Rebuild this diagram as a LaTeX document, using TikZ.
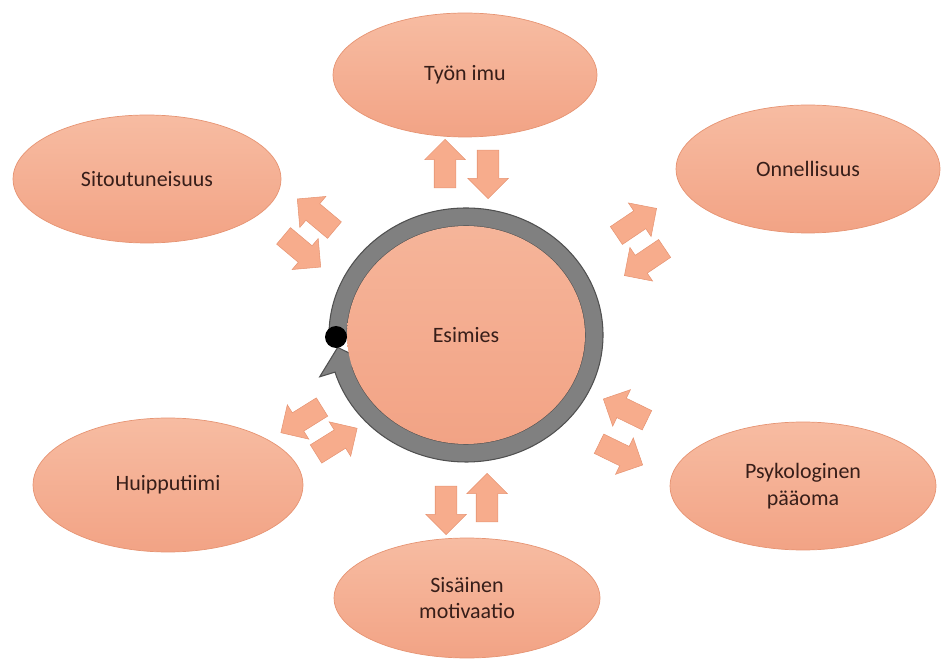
\documentclass[tikz,border=0pt]{standalone}
\usepackage{fontspec}
\setmainfont{Carlito}
\usetikzlibrary{shapes.geometric,shapes.arrows}

\definecolor{salmonTop}{RGB}{247,188,162}
\definecolor{salmonBot}{RGB}{242,163,133}
\definecolor{salmonEdge}{RGB}{230,148,115}
\definecolor{arrowFill}{RGB}{247,172,140}
\definecolor{ringGrey}{RGB}{128,128,128}
\definecolor{ringEdge}{RGB}{80,80,80}
\definecolor{labelText}{RGB}{55,30,25}

\tikzset{
  bubble/.style={ellipse, draw=salmonEdge, line width=0.4pt,
    top color=salmonTop, bottom color=salmonBot, inner sep=0pt,
    text=labelText, align=center, font=\fontsize{12.5}{15}\selectfont},
  flow/.style={single arrow, draw=salmonEdge, line width=0.3pt, fill=arrowFill,
    minimum height=0.97cm, inner sep=0.21cm, single arrow head extend=0.19cm}
}

\begin{document}
\begin{tikzpicture}[x=0.02cm,y=0.02cm]
  \useasboundingbox (0,0) rectangle (942,659);

  %Ring round the centre
  \begin{scope}[shift={(466,324)}]
    \fill[ringGrey, draw=ringEdge, line width=0.6pt]
      (180:137 and 127) arc[start angle=180, end angle=-163, x radius=137, y radius=127]
      -- (-163:153 and 143) -- (-174:129 and 118) -- (-163:103 and 93)
      -- (-163:119 and 109) arc[start angle=-163, end angle=180, x radius=119, y radius=109]
      -- cycle;
  \end{scope}
  \node[ellipse, top color=salmonTop!70!salmonBot, bottom color=salmonBot, inner sep=0pt,
    minimum width=4.76cm, minimum height=4.36cm, text=labelText,
    font=\fontsize{12.5}{15}\selectfont] (esimies) at (466,324) {Esimies};
  \node[circle, fill=black, minimum size=0.44cm, inner sep=0pt] (startdot) at (336,322) {};

  %Outer bubbles
  \begin{scope}[every node/.style={bubble}]
    \node[minimum width=5.28cm, minimum height=2.48cm] (imu) at (465,584) {Työn imu};
    \node[minimum width=5.36cm, minimum height=2.56cm] (sitout) at (147,480) {Sitoutuneisuus};
    \node[minimum width=5.28cm, minimum height=2.56cm] (onni) at (808,490) {Onnellisuus};
    \node[minimum width=5.32cm, minimum height=2.56cm] (psyk) at (803,173) {Psykologinen\\pääoma};
    \node[minimum width=5.40cm, minimum height=2.68cm] (huippu) at (168,174) {Huipputiimi};
    \node[minimum width=5.32cm, minimum height=2.40cm] (motiv) at (467,61) {Sisäinen\\motivaatio};
  \end{scope}

  %Arrow pairs
  \begin{scope}[every node/.style={flow}]
    \node[rotate=90] (imuOut) at (445,490) {};
    \node[rotate=-90] (imuIn) at (488,490) {};
    \node[rotate=140] (sitoutOut) at (320,441) {};
    \node[rotate=-40] (sitoutIn) at (298,411) {};
    \node[rotate=34] (onniOut) at (632,434) {};
    \node[rotate=214] (onniIn) at (649,400) {};
    \node[rotate=154] (psykIn) at (630,247) {};
    \node[rotate=-26] (psykOut) at (616,207) {};
    \node[rotate=212] (huippuOut) at (306,242) {};
    \node[rotate=32] (huippuIn) at (332,215) {};
    \node[rotate=-90] (motivOut) at (446,154) {};
    \node[rotate=90] (motivIn) at (487,156) {};
  \end{scope}
\end{tikzpicture}
\end{document}
